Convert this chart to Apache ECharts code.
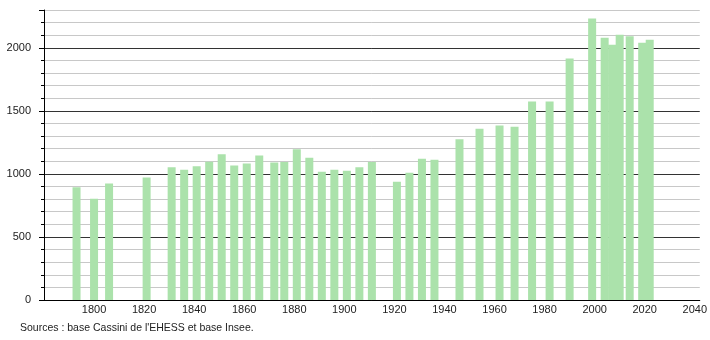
<!DOCTYPE html>
<html>
<head>
<meta charset="utf-8">
<script src="https://cdn.jsdelivr.net/npm/echarts@6/dist/echarts.min.js"></script>
<style>
html,body{margin:0;padding:0;background:#fff;}
#chart{width:710px;height:340px;}
</style>
</head>
<body>
<div id="chart"></div>
<script>
// Years of census
const years = [1793,1800,1806,1821,1831,1836,1841,1846,1851,1856,1861,1866,1872,1876,1881,1886,1891,1896,1901,1906,1911,1921,1926,1931,1936,1946,1954,1962,1968,1975,1982,1990,1999,2004,2007,2010,2014,2019,2022];
// Population values
const population = [895,803,924,972,1052,1033,1060,1097,1155,1067,1083,1147,1091,1094,1195,1128,1017,1033,1025,1052,1094,938,1009,1121,1113,1274,1359,1383,1375,1574,1574,1915,2233,2080,2024,2104,2092,2040,2064];
// Axis tick labels
const xTickLabels = [1800,1820,1840,1860,1880,1900,1920,1940,1960,1980,2000,2020,2040];
const yTickLabels = [0,500,1000,1500,2000];
const sourceText = "Sources : base Cassini de l'EHESS et base Insee.";

const chart = echarts.init(document.getElementById('chart'), null, {renderer:'canvas'});
const font = 'Liberation Sans, Arial, sans-serif';
chart.setOption({
  animation: false,
  backgroundColor: '#fff',
  grid: {left: 44, right: 10, top: 10, bottom: 40, containLabel: false},
  xAxis: {
    type: 'value', min: 1780, max: 2042, interval: 20,
    axisLine: {show: true, lineStyle: {color: '#000', width: 1}},
    axisTick: {show: false},
    splitLine: {show: false},
    axisLabel: {
      color: '#222', fontSize: 11, fontFamily: font, margin: 4,
      showMinLabel: true, showMaxLabel: true,
      formatter: v => xTickLabels.indexOf(v) >= 0 ? String(v) : ''
    }
  },
  yAxis: [{
    type: 'value', min: 0, max: 2300, interval: 100,
    axisLine: {show: true, lineStyle: {color: '#000', width: 1}},
    axisTick: {show: true, length: 3, lineStyle: {color: '#000'}},
    splitLine: {show: true, lineStyle: {color: ['#333','#c8c8c8','#c8c8c8','#c8c8c8','#c8c8c8'], width: 1}},
    axisLabel: {
      color: '#222', fontSize: 11, fontFamily: font, margin: 13,
      formatter: v => yTickLabels.indexOf(v) >= 0 ? String(v) : ''
    }
  }, {
    type: 'value', min: 0, max: 2300, interval: 500, position: 'left',
    axisLine: {show: false},
    axisTick: {show: true, length: 5, lineStyle: {color: '#000'}},
    splitLine: {show: false},
    axisLabel: {show: false}
  }],
  series: [{
    type: 'bar',
    barWidth: 8,
    itemStyle: {color: '#abe2ab'},
    data: years.map((y, i) => [y, population[i]])
  }],
  graphic: [{
    type: 'text', left: 20, top: 323,
    style: {text: sourceText, fill: '#222', font: '10.5px ' + font}
  }]
});
</script>
</body>
</html>
